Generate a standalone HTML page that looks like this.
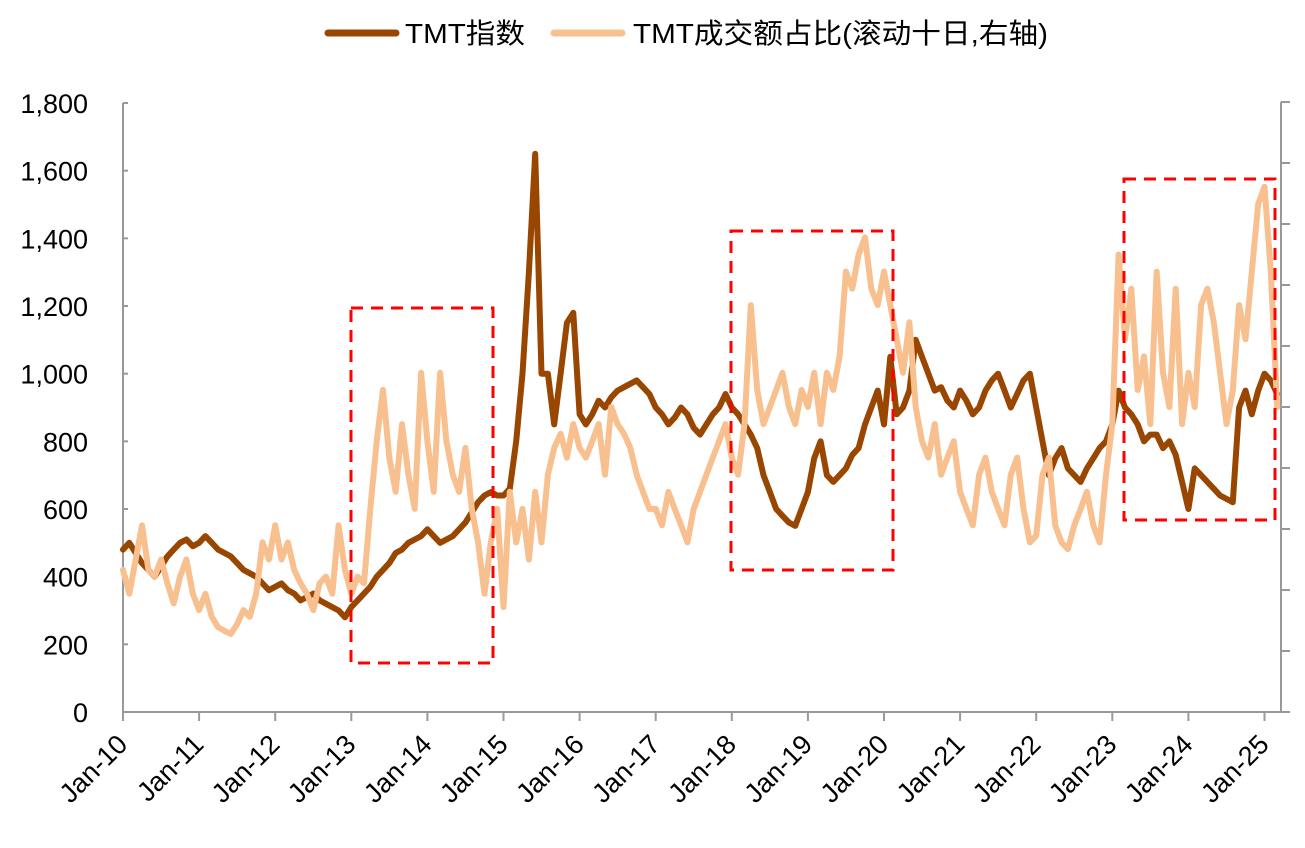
<!DOCTYPE html>
<html><head><meta charset="utf-8">
<style>
html,body{margin:0;padding:0;background:#fff;}
svg text{font-family:"Liberation Sans","Noto Sans CJK SC",sans-serif;fill:#000;}
</style></head>
<body>
<svg id="chart" width="1305" height="843" viewBox="0 0 1305 843" xmlns="http://www.w3.org/2000/svg">
  <g id="legend">
    <line x1="328" y1="33" x2="396" y2="33" stroke="#994700" stroke-width="7" stroke-linecap="round"/>
    <text x="405" y="43" font-size="28" textLength="120" lengthAdjust="spacingAndGlyphs">TMT指数</text>
    <line x1="554" y1="33" x2="622" y2="33" stroke="#F9C08F" stroke-width="7" stroke-linecap="round"/>
    <text x="633" y="43" font-size="28" textLength="415" lengthAdjust="spacingAndGlyphs">TMT成交额占比(滚动十日,右轴)</text>
  </g>
  <g id="axes"></g>
  <g id="series"></g>
  <g id="boxes">
    <rect x="351" y="308" width="142" height="355" fill="none" stroke="#FF0000" stroke-width="3" stroke-dasharray="12,8"/>
    <rect x="731" y="231" width="162" height="339" fill="none" stroke="#FF0000" stroke-width="3" stroke-dasharray="12,8"/>
    <rect x="1124" y="179" width="151" height="341" fill="none" stroke="#FF0000" stroke-width="3" stroke-dasharray="12,8"/>
  </g>
</svg>
<script>
const yearLabels = ["Jan-10","Jan-11","Jan-12","Jan-13","Jan-14","Jan-15","Jan-16","Jan-17","Jan-18","Jan-19","Jan-20","Jan-21","Jan-22","Jan-23","Jan-24","Jan-25"];
const leftTicks = [0,200,400,600,800,1000,1200,1400,1600,1800];
const rightTicks = [0,1,2,3,4,5,6,7,8,9,10];
// monthly from Jan-2010
const tmtIndex = [
480,500,470,440,420,400,430,460,480,500,510,490,
500,520,500,480,470,460,440,420,410,400,380,360,
370,380,360,350,330,340,350,330,320,310,300,280,
310,330,350,370,400,420,440,470,480,500,510,520,
540,520,500,510,520,540,560,590,620,640,650,640,
640,660,800,1000,1300,1650,1000,1000,850,1000,1150,1180,
880,850,880,920,900,930,950,960,970,980,960,940,
900,880,850,870,900,880,840,820,850,880,900,940,
900,880,850,820,780,700,650,600,580,560,550,600,
650,750,800,700,680,700,720,760,780,850,900,950,
850,1050,880,900,950,1100,1050,1000,950,960,920,900,
950,920,880,900,950,980,1000,950,900,940,980,1000,
900,800,700,750,780,720,700,680,720,750,780,800,
850,950,900,880,850,800,820,820,780,800,760,680,
600,720,700,680,660,640,630,620,900,950,880,950,
1000,980,940];
// right axis units (0-10)
const tmtTurnoverShare = [
2.33,1.94,2.50,3.06,2.33,2.22,2.50,2.11,1.78,2.22,2.50,1.94,
1.67,1.94,1.56,1.39,1.33,1.28,1.44,1.67,1.56,1.94,2.78,2.50,
3.06,2.50,2.78,2.33,2.11,1.94,1.67,2.11,2.22,1.94,3.06,2.33,
1.94,2.22,2.11,3.33,4.44,5.28,4.17,3.61,4.72,3.89,3.33,5.56,
4.44,3.61,5.56,4.44,3.89,3.61,4.33,3.33,2.78,1.94,2.78,3.33,
1.72,3.61,2.78,3.33,2.50,3.61,2.78,3.89,4.33,4.56,4.17,4.72,
4.33,4.17,4.44,4.72,3.89,5.00,4.72,4.56,4.33,3.89,3.61,3.33,
3.33,3.06,3.61,3.33,3.06,2.78,3.33,3.61,3.89,4.17,4.44,4.72,
4.17,3.89,4.72,6.67,5.28,4.72,5.00,5.28,5.56,5.00,4.72,5.28,
5.00,5.56,4.72,5.56,5.28,5.83,7.22,6.94,7.50,7.78,6.94,6.67,
7.22,6.67,6.11,5.56,6.39,5.00,4.44,4.17,4.72,3.89,4.17,4.44,
3.61,3.33,3.06,3.89,4.17,3.61,3.33,3.06,3.89,4.17,3.33,2.78,
2.89,3.89,4.17,3.06,2.78,2.67,3.06,3.33,3.61,3.06,2.78,3.89,
4.72,7.50,6.11,6.94,5.28,5.83,4.72,7.22,5.56,5.00,6.94,4.72,
5.56,5.00,6.67,6.94,6.39,5.56,4.72,5.28,6.67,6.11,7.22,8.33,
8.61,7.22,5.00];

const NS = "http://www.w3.org/2000/svg";
const X0 = 123, YEARW = 76.1, YB = 712, YT = 103;
const xScale = i => X0 + i * YEARW / 12;
const yLeft = v => YB - (v / 1800) * (YB - YT);
const yRight = v => YB - (v / 10) * (YB - 102);
function mk(tag, attrs, parent) {
  const e = document.createElementNS(NS, tag);
  for (const k in attrs) e.setAttribute(k, attrs[k]);
  parent.appendChild(e);
  return e;
}
const axes = document.getElementById("axes");
const grey = "#999";
let la = mk("line", {x1:X0, y1:YT, x2:X0, y2:YB, stroke:grey, "stroke-width":2}, axes);


leftTicks.forEach(v => {
  const y = yLeft(v);
  const t = mk("line", {x1:X0, y1:y, x2:X0 + 5, y2:y, stroke:grey, "stroke-width":2}, axes);
  
  
  const tx = mk("text", {x:88, y:y + 10, "font-size":27, "text-anchor":"end"}, axes);
  tx.textContent = v.toLocaleString("en-US");
  
  
});
const XR = 1281;
let ra = mk("line", {x1:XR, y1:102, x2:XR, y2:YB, stroke:grey, "stroke-width":2}, axes);


rightTicks.forEach(v => {
  const y = yRight(v);
  const t = mk("line", {x1:XR, y1:y, x2:XR + 9, y2:y, stroke:grey, "stroke-width":2}, axes);
  
  
});
let xa = mk("line", {x1:X0, y1:YB, x2:XR + 1, y2:YB, stroke:grey, "stroke-width":2}, axes);


yearLabels.forEach((lab, k) => {
  const x = xScale(k * 12);
  const t = mk("line", {x1:x, y1:YB, x2:x, y2:YB + 9, stroke:grey, "stroke-width":2}, axes);
  
  
  const tx = mk("text", {x:x + 6, y:YB + 34, "font-size":27, "text-anchor":"end", transform:`rotate(-45 ${x + 6} ${YB + 34})`}, axes);
  tx.textContent = lab;
  
  
});
const series = document.getElementById("series");
const p1 = mk("path", {d: tmtIndex.map((v,i)=>(i?"L":"M")+xScale(i).toFixed(1)+","+yLeft(v).toFixed(1)).join(""), fill:"none", stroke:"#994700", "stroke-width":6, "stroke-linejoin":"round", "stroke-linecap":"round"}, series);


const p2 = mk("path", {d: tmtTurnoverShare.map((v,i)=>(i?"L":"M")+xScale(i).toFixed(1)+","+yRight(v).toFixed(1)).join(""), fill:"none", stroke:"#F9C08F", "stroke-width":6, "stroke-linejoin":"round", "stroke-linecap":"round"}, series);


</script>
</body></html>
